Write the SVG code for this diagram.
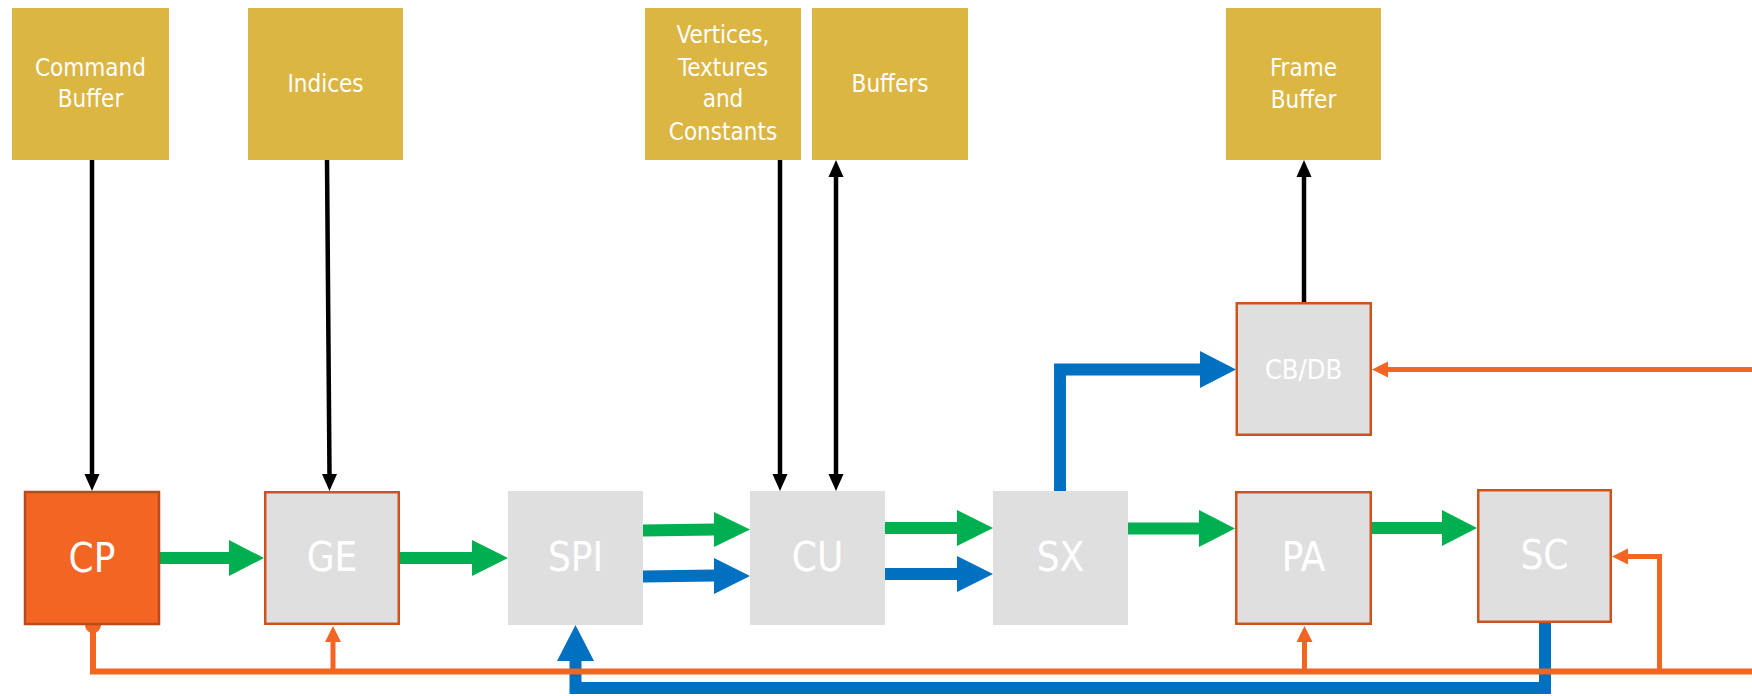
<svg xmlns="http://www.w3.org/2000/svg" width="1752" height="696" viewBox="0 0 1752 696">
<style>
.mem{fill:#DBB643}
.mt{fill:#fff;font-family:"DejaVu Sans Condensed","DejaVu Sans","Liberation Sans",sans-serif;font-size:24px;text-anchor:middle}
.blk{fill:#E0DFDF}
.ob{fill:#E0DFDF;stroke:#CF541B;stroke-width:2.5}
.cp{fill:#F26522;stroke:#B84A1C;stroke-width:2.5}
.bt{fill:#fff;font-family:"DejaVu Sans Condensed","DejaVu Sans","Liberation Sans",sans-serif;font-size:40px;text-anchor:middle}
.st{fill:#fff;font-family:"DejaVu Sans Condensed","DejaVu Sans","Liberation Sans",sans-serif;font-size:27px;text-anchor:middle}
.k{stroke:#000;stroke-width:4.5;fill:none}
.kh{fill:#000}
.g{stroke:#00B050;stroke-width:12;fill:none}
.gh{fill:#00B050}
.b{stroke:#0070C0;stroke-width:12;fill:none;stroke-linejoin:miter}
.bh{fill:#0070C0}
.o{stroke:#F26522;stroke-width:5;fill:none;stroke-linejoin:miter}
.oh{fill:#F26522}
</style>
<rect width="1752" height="696" fill="#fff"/>
<g id="cmdbuf"><rect class="mem" x="12" y="8" width="157" height="152"/><text class="mt" x="90.5" y="76">Command</text><text class="mt" x="90.5" y="107">Buffer</text></g>
<g id="indices"><rect class="mem" x="248" y="8" width="155" height="152"/><text class="mt" x="325.5" y="92">Indices</text></g>
<g id="vtc"><rect class="mem" x="645" y="8" width="156" height="152"/><text class="mt" x="723" y="43">Vertices,</text><text class="mt" x="723" y="76">Textures</text><text class="mt" x="723" y="107">and</text><text class="mt" x="723" y="140">Constants</text></g>
<g id="buffers"><rect class="mem" x="812" y="8" width="156" height="152"/><text class="mt" x="890" y="92">Buffers</text></g>
<g id="framebuf"><rect class="mem" x="1226" y="8" width="155" height="152"/><text class="mt" x="1303.5" y="76">Frame</text><text class="mt" x="1303.5" y="108">Buffer</text></g>
<g id="connectors">
<path class="k" d="M92,160V475"/><polygon class="kh" points="84.5,474 99.5,474 92,491"/>
<path class="k" d="M327,160L329.5,475"/><polygon class="kh" points="322,474 337,474 329.5,491"/>
<path class="k" d="M780,160V475"/><polygon class="kh" points="772.5,474 787.5,474 780,491"/>
<path class="k" d="M836,176V475"/><polygon class="kh" points="828.5,474 843.5,474 836,491"/><polygon class="kh" points="828.5,177 843.5,177 836,160"/>
<path class="k" d="M1304,302V176"/><polygon class="kh" points="1296.5,177 1311.5,177 1304,160"/>
<path class="g" d="M160,558H230"/><polygon class="gh" points="229,540 264,558 229,576"/>
<path class="g" d="M400,558H473"/><polygon class="gh" points="472,540 508,558 472,576"/>
<path class="g" d="M643,530.5L715,529.5"/><polygon class="gh" points="714,512 750,529.5 714,547"/>
<path class="b" d="M643,576.5L715,575.5"/><polygon class="bh" points="714,558 750,576 714,594"/>
<path class="g" d="M885,528H958"/><polygon class="gh" points="957,510 993,528 957,546"/>
<path class="b" d="M885,574H958"/><polygon class="bh" points="957,556 993,574 957,592"/>
<path class="g" d="M1128,528.5H1200"/><polygon class="gh" points="1199,510 1235,528.5 1199,547"/>
<path class="g" d="M1372,528H1443"/><polygon class="gh" points="1442,510 1477,528 1442,546"/>
<path class="b" d="M1060,491V369.5H1201"/><polygon class="bh" points="1200,351 1236,369.5 1200,388"/>
<path class="b" d="M1545,623V688H575.5V660"/>
<path class="o" d="M93,625V671.5H1752" style="stroke-width:6"/>
<path class="oh" d="M85,625A8,8 0 0 0 101,625Z"/>
<path class="o" d="M333,671.5V641"/><polygon class="oh" points="325,642 341,642 333,626"/>
<path class="o" d="M1304.5,671.5V641"/><polygon class="oh" points="1296.5,642 1312.5,642 1304.5,626"/>
<path class="o" d="M1659.5,671.5V556.5H1627"/><polygon class="oh" points="1628,548.5 1628,564.5 1612,556.5"/>
<path class="o" d="M1752,369.5H1387"/><polygon class="oh" points="1388,361.5 1388,377.5 1372,369.5"/>
<polygon class="bh" points="557,661 594,661 575.5,625"/>
</g>
<g id="cp"><rect class="cp" x="25" y="492" width="134" height="132"/><text class="bt" x="92" y="572">CP</text></g>
<g id="ge"><rect class="ob" x="265.25" y="492.25" width="133.5" height="131.5"/><text class="bt" x="332" y="571">GE</text></g>
<g id="spi"><rect class="blk" x="508" y="491" width="135" height="134"/><text class="bt" x="575.5" y="571">SPI</text></g>
<g id="cu"><rect class="blk" x="750" y="491" width="135" height="134"/><text class="bt" x="817.5" y="571">CU</text></g>
<g id="sx"><rect class="blk" x="993" y="491" width="135" height="134"/><text class="bt" x="1060.5" y="571">SX</text></g>
<g id="pa"><rect class="ob" x="1236.25" y="492.25" width="134.5" height="131.5"/><text class="bt" x="1303.5" y="571">PA</text></g>
<g id="sc"><rect class="ob" x="1478.25" y="490.25" width="132.5" height="131.5"/><text class="bt" x="1544.5" y="569">SC</text></g>
<g id="cbdb"><rect class="ob" x="1236.75" y="303.25" width="134" height="131.5"/><text class="st" x="1303.5" y="379">CB/DB</text></g>
</svg>
